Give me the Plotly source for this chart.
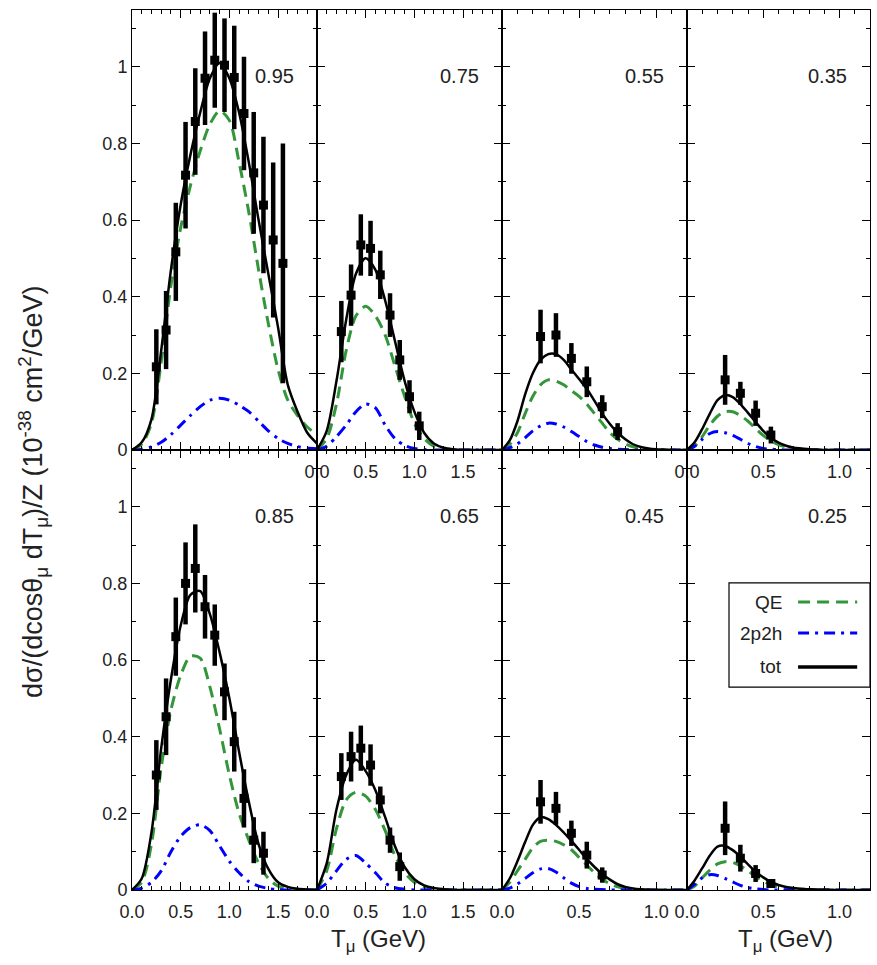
import plotly.graph_objects as go
from plotly.subplots import make_subplots

# ---------------- data ----------------
panel_labels = ["0.95", "0.75", "0.55", "0.35", "0.85", "0.65", "0.45", "0.25"]

T_wide = [0.0, 0.1, 0.2, 0.3, 0.4, 0.5, 0.6, 0.7, 0.8, 0.9, 1.0, 1.1, 1.2, 1.3,
          1.4, 1.5, 1.6, 1.7, 1.8, 1.9]
T_narrow = [0.0, 0.05, 0.1, 0.15, 0.2, 0.25, 0.3, 0.35, 0.4, 0.45, 0.5, 0.55, 0.6,
            0.65, 0.7, 0.75, 0.8, 0.85, 0.9, 0.95, 1.0, 1.05, 1.1, 1.15, 1.2]

# cos = 0.95
tot_095 = [0, 0.02, 0.08, 0.26, 0.47, 0.64, 0.77, 0.88, 0.97, 1.01, 0.97, 0.88, 0.75,
           0.60, 0.46, 0.32, 0.17, 0.10, 0.045, 0.017]
qe_095 = [0, 0.015, 0.07, 0.23, 0.43, 0.58, 0.69, 0.78, 0.85, 0.885, 0.86, 0.75, 0.62,
          0.47, 0.33, 0.21, 0.13, 0.09, 0.06, 0.04]
mec_095 = [0, 0.002, 0.008, 0.02, 0.04, 0.065, 0.09, 0.113, 0.13, 0.135, 0.13, 0.117,
           0.10, 0.075, 0.05, 0.03, 0.017, 0.009, 0.005, 0.003]
dT_095 = [0.25, 0.35, 0.45, 0.55, 0.65, 0.75, 0.85, 0.95, 1.05, 1.15, 1.25, 1.35, 1.45, 1.55]
dv_095 = [0.217, 0.313, 0.517, 0.717, 0.857, 0.970, 1.017, 1.004, 0.972, 0.878, 0.723,
          0.639, 0.548, 0.487]
de_095 = [0.098, 0.102, 0.128, 0.139, 0.139, 0.122, 0.124, 0.122, 0.135, 0.148, 0.159,
          0.178, 0.202, 0.313]

# cos = 0.75
tot_075 = [0, 0.05, 0.18, 0.34, 0.46, 0.50, 0.47, 0.39, 0.285, 0.18, 0.10, 0.045, 0.017,
           0.006, 0.002, 0, 0, 0, 0, 0]
qe_075 = [0, 0.03, 0.12, 0.26, 0.35, 0.375, 0.35, 0.30, 0.22, 0.14, 0.07, 0.03, 0.01,
          0.004, 0.001, 0, 0, 0, 0, 0]
mec_075 = [0, 0.01, 0.035, 0.065, 0.10, 0.12, 0.11, 0.065, 0.03, 0.012, 0.004, 0.001,
           0, 0, 0, 0, 0, 0, 0, 0]
dT_075 = [0.25, 0.35, 0.45, 0.55, 0.65, 0.75, 0.85, 0.95, 1.05]
dv_075 = [0.309, 0.404, 0.535, 0.526, 0.457, 0.352, 0.235, 0.139, 0.063]
de_075 = [0.08, 0.08, 0.08, 0.072, 0.063, 0.057, 0.052, 0.043, 0.037]

# cos = 0.55
tot_055 = [0, 0.025, 0.075, 0.145, 0.20, 0.235, 0.25, 0.25, 0.235, 0.21, 0.185, 0.16,
           0.128, 0.095, 0.068, 0.045, 0.028, 0.015, 0.008, 0.004, 0.002, 0.001, 0, 0, 0]
qe_055 = [0, 0.015, 0.045, 0.095, 0.14, 0.17, 0.183, 0.18, 0.17, 0.155, 0.14, 0.12,
          0.095, 0.07, 0.045, 0.028, 0.016, 0.008, 0.004, 0.002, 0.001, 0, 0, 0, 0]
mec_055 = [0, 0.006, 0.016, 0.032, 0.05, 0.063, 0.07, 0.068, 0.06, 0.048, 0.035, 0.022,
           0.013, 0.007, 0.004, 0.002, 0.001, 0, 0, 0, 0, 0, 0, 0, 0]
dT_055 = [0.25, 0.35, 0.45, 0.55, 0.65, 0.75]
dv_055 = [0.296, 0.30, 0.239, 0.178, 0.113, 0.048]
de_055 = [0.07, 0.057, 0.04, 0.04, 0.03, 0.022]

# cos = 0.35
tot_035 = [0, 0.02, 0.055, 0.095, 0.13, 0.143, 0.138, 0.12, 0.097, 0.073, 0.05, 0.032,
           0.019, 0.011, 0.006, 0.004, 0.002, 0.001, 0, 0, 0, 0, 0, 0, 0]
qe_035 = [0, 0.01, 0.035, 0.065, 0.088, 0.10, 0.10, 0.09, 0.075, 0.056, 0.038, 0.024,
          0.014, 0.008, 0.004, 0.002, 0.001, 0, 0, 0, 0, 0, 0, 0, 0]
mec_035 = [0, 0.01, 0.028, 0.043, 0.048, 0.045, 0.038, 0.028, 0.017, 0.009, 0.004, 0.002,
           0.001, 0, 0, 0, 0, 0, 0, 0, 0, 0, 0, 0, 0]
dT_035 = [0.25, 0.35, 0.45, 0.55]
dv_035 = [0.183, 0.148, 0.096, 0.039]
de_035 = [0.065, 0.03, 0.033, 0.022]

# cos = 0.85
tot_085 = [0, 0.03, 0.15, 0.37, 0.55, 0.69, 0.77, 0.78, 0.72, 0.62, 0.50, 0.36, 0.23,
           0.12, 0.055, 0.02, 0.008, 0.003, 0.001, 0]
qe_085 = [0, 0.02, 0.12, 0.32, 0.47, 0.56, 0.61, 0.605, 0.53, 0.42, 0.30, 0.20, 0.13,
          0.07, 0.03, 0.01, 0.003, 0.001, 0, 0]
mec_085 = [0, 0.005, 0.02, 0.05, 0.10, 0.14, 0.163, 0.17, 0.155, 0.115, 0.075, 0.045,
           0.022, 0.01, 0.004, 0.001, 0, 0, 0, 0]
dT_085 = [0.25, 0.35, 0.45, 0.55, 0.65, 0.75, 0.85, 0.95, 1.05, 1.15, 1.25, 1.35]
dv_085 = [0.30, 0.452, 0.661, 0.80, 0.839, 0.739, 0.665, 0.517, 0.387, 0.239, 0.13, 0.096]
de_085 = [0.091, 0.10, 0.102, 0.107, 0.115, 0.083, 0.08, 0.074, 0.078, 0.076, 0.06, 0.056]

# cos = 0.65
tot_065 = [0, 0.07, 0.21, 0.30, 0.34, 0.31, 0.26, 0.19, 0.115, 0.06, 0.028, 0.012,
           0.005, 0.002, 0, 0, 0, 0, 0, 0]
qe_065 = [0, 0.05, 0.16, 0.235, 0.255, 0.245, 0.21, 0.155, 0.09, 0.045, 0.02, 0.008,
          0.003, 0.001, 0, 0, 0, 0, 0, 0]
mec_065 = [0, 0.018, 0.05, 0.08, 0.09, 0.07, 0.045, 0.018, 0.006, 0.002, 0, 0, 0, 0,
           0, 0, 0, 0, 0, 0]
dT_065 = [0.25, 0.35, 0.45, 0.55, 0.65, 0.75, 0.85]
dv_065 = [0.296, 0.348, 0.37, 0.326, 0.235, 0.13, 0.061]
de_065 = [0.061, 0.065, 0.059, 0.054, 0.035, 0.033, 0.037]

# cos = 0.45
tot_045 = [0, 0.03, 0.075, 0.125, 0.17, 0.19, 0.185, 0.17, 0.15, 0.128, 0.105, 0.081,
           0.06, 0.042, 0.027, 0.015, 0.008, 0.004, 0.002, 0.001, 0, 0, 0, 0, 0]
qe_045 = [0, 0.02, 0.05, 0.08, 0.11, 0.127, 0.13, 0.127, 0.118, 0.105, 0.085, 0.065,
          0.045, 0.028, 0.016, 0.008, 0.004, 0.002, 0.001, 0, 0, 0, 0, 0, 0]
mec_045 = [0, 0.005, 0.016, 0.03, 0.045, 0.055, 0.056, 0.047, 0.032, 0.018, 0.009, 0.004,
           0.002, 0.001, 0, 0, 0, 0, 0, 0, 0, 0, 0, 0, 0]
dT_045 = [0.25, 0.35, 0.45, 0.55, 0.65]
dv_045 = [0.23, 0.213, 0.148, 0.091, 0.039]
de_045 = [0.057, 0.043, 0.033, 0.035, 0.02]

# cos = 0.25
tot_025 = [0, 0.025, 0.057, 0.09, 0.113, 0.115, 0.104, 0.087, 0.067, 0.048, 0.033, 0.021,
           0.013, 0.008, 0.005, 0.003, 0.002, 0.001, 0.001, 0, 0, 0, 0, 0, 0]
qe_025 = [0, 0.01, 0.032, 0.052, 0.068, 0.074, 0.072, 0.063, 0.05, 0.035, 0.023, 0.014,
          0.008, 0.005, 0.003, 0.002, 0.001, 0, 0, 0, 0, 0, 0, 0, 0]
mec_025 = [0, 0.015, 0.032, 0.04, 0.038, 0.03, 0.021, 0.012, 0.006, 0.003, 0.001, 0, 0,
           0, 0, 0, 0, 0, 0, 0, 0, 0, 0, 0, 0]
dT_025 = [0.25, 0.35, 0.45, 0.55]
dv_025 = [0.161, 0.083, 0.043, 0.017]
de_025 = [0.07, 0.035, 0.022, 0.01]

x_max_wide = 1.9
x_max_narrow = 1.2
y_max = 1.148

panels = [
    (T_wide, qe_095, mec_095, tot_095, dT_095, dv_095, de_095, x_max_wide),
    (T_wide, qe_075, mec_075, tot_075, dT_075, dv_075, de_075, x_max_wide),
    (T_narrow, qe_055, mec_055, tot_055, dT_055, dv_055, de_055, x_max_narrow),
    (T_narrow, qe_035, mec_035, tot_035, dT_035, dv_035, de_035, x_max_narrow),
    (T_wide, qe_085, mec_085, tot_085, dT_085, dv_085, de_085, x_max_wide),
    (T_wide, qe_065, mec_065, tot_065, dT_065, dv_065, de_065, x_max_wide),
    (T_narrow, qe_045, mec_045, tot_045, dT_045, dv_045, de_045, x_max_narrow),
    (T_narrow, qe_025, mec_025, tot_025, dT_025, dv_025, de_025, x_max_narrow),
]

# ---------------- styles ----------------
GREEN = "#33963a"
BLUE = "#0000ff"
FONT = "Liberation Sans, Arial, Helvetica, sans-serif"
TXT = "#222222"
QE_DASH = "12px,7px"
MEC_DASH = "11px,6px,3px,6px"

fig = make_subplots(rows=2, cols=4, horizontal_spacing=0, vertical_spacing=0)

W, H = 877, 965
ML, MR, MT, MB = 132, 7, 10, 75
pw = W - ML - MR
col_px = [132, 317, 502, 687, 870]
x_domains = [[(col_px[i] - ML) / pw, (col_px[i + 1] - ML) / pw] for i in range(4)]
x_domains[-1][1] = 1.0
y_domains = [[0.5, 1.0], [0.0, 0.5]]

for i, (T, qe, mec, tot, dT, dv, de, xmax) in enumerate(panels):
    r, c = i // 4 + 1, i % 4 + 1
    fig.add_trace(go.Scatter(x=T, y=qe, mode="lines", line=dict(color=GREEN, width=3, dash=QE_DASH, shape="spline", smoothing=0.8),
                             showlegend=False, hoverinfo="skip"), row=r, col=c)
    fig.add_trace(go.Scatter(x=T, y=mec, mode="lines", line=dict(color=BLUE, width=3, dash=MEC_DASH, shape="spline", smoothing=0.8),
                             showlegend=False, hoverinfo="skip"), row=r, col=c)
    fig.add_trace(go.Scatter(x=T, y=tot, mode="lines", line=dict(color="black", width=2.5, shape="spline", smoothing=0.8),
                             showlegend=False, hoverinfo="skip"), row=r, col=c)
    fig.add_trace(go.Scatter(x=dT, y=dv, mode="markers",
                             marker=dict(symbol="square", size=9, color="black"),
                             error_y=dict(type="data", array=de, thickness=4.5, width=0, color="black"),
                             showlegend=False), row=r, col=c)

    n = i + 1
    xa = "xaxis" if n == 1 else f"xaxis{n}"
    ya = "yaxis" if n == 1 else f"yaxis{n}"
    common = dict(showline=True, linecolor="black", linewidth=1, mirror="allticks",
                  ticks="inside", ticklen=8, tickwidth=1.2, tickcolor="black",
                  showgrid=False, zeroline=False,
                  tickfont=dict(size=18, color=TXT, family=FONT))
    show_x_labels = not (r == 1 and c in (1, 3))
    fig.layout[xa].update(domain=x_domains[c - 1], range=[0, xmax], tick0=0, dtick=0.5,
                          tickformat=".1f", showticklabels=show_x_labels,
                          ticklabelstandoff=5,
                          minor=dict(ticks="inside", ticklen=4, tickwidth=1, tickcolor="black",
                                     dtick=0.1, tick0=0, showgrid=False),
                          **common)
    fig.layout[ya].update(domain=y_domains[r - 1], range=[0, y_max], tick0=0, dtick=0.2,
                          showticklabels=(c == 1),
                          minor=dict(ticks="inside", ticklen=4, tickwidth=1, tickcolor="black",
                                     dtick=0.1, tick0=0, showgrid=False),
                          **common)

    xr = "x" if n == 1 else f"x{n}"
    yr = "y" if n == 1 else f"y{n}"
    fig.add_annotation(text=panel_labels[i], xref=f"{xr} domain", yref=f"{yr} domain",
                       x=0.885, y=0.85, xanchor="right", yanchor="middle", showarrow=False,
                       font=dict(size=20, color=TXT, family=FONT))

# ---------------- legend (inside bottom-right panel) ----------------
lx, ly = "x8 domain", "y8 domain"
fig.add_shape(type="rect", xref=lx, yref=ly, x0=0.2295, x1=1.0, y0=0.461, y1=0.698,
              line=dict(color="black", width=1.2), fillcolor="white", layer="above")
legend_items = [("QE", GREEN, QE_DASH, 3, 0.6545), ("2p2h", BLUE, MEC_DASH, 3, 0.584),
                ("tot", "black", "solid", 3.5, 0.507)]
for name, col, dash, w, yy in legend_items:
    fig.add_shape(type="line", xref=lx, yref=ly, x0=0.607, x1=0.93, y0=yy, y1=yy,
                  line=dict(color=col, width=w, dash=dash), layer="above")
    fig.add_annotation(text=name, xref=lx, yref=ly, x=0.53, y=yy, xanchor="right",
                       yanchor="middle", showarrow=False,
                       font=dict(size=19, color=TXT, family=FONT))

# ---------------- axis titles ----------------
xt = "T<sub>μ</sub> (GeV)"
for xc in (378, 785):
    fig.add_annotation(text=xt, xref="paper", yref="paper", x=(xc - ML) / pw,
                       y=(H - MB - 940) / (H - MT - MB), xanchor="center", yanchor="middle",
                       showarrow=False, font=dict(size=24, color=TXT, family=FONT))

fig.add_annotation(text="dσ/(dcosθ<sub>μ</sub> dT<sub>μ</sub>)/Z (10<sup>-38</sup> cm<sup>2</sup>/GeV)",
                   xref="paper", yref="paper", x=(33 - ML) / pw, y=(H - MB - 492) / (H - MT - MB),
                   xanchor="center", yanchor="middle", textangle=-90, showarrow=False,
                   font=dict(size=27, color=TXT, family=FONT))

fig.update_layout(width=W, height=H, margin=dict(l=ML, r=MR, t=MT, b=MB),
                  paper_bgcolor="white", plot_bgcolor="rgba(0,0,0,0)",
                  showlegend=False, font=dict(family=FONT, color=TXT))

fig.write_html("out.html")
